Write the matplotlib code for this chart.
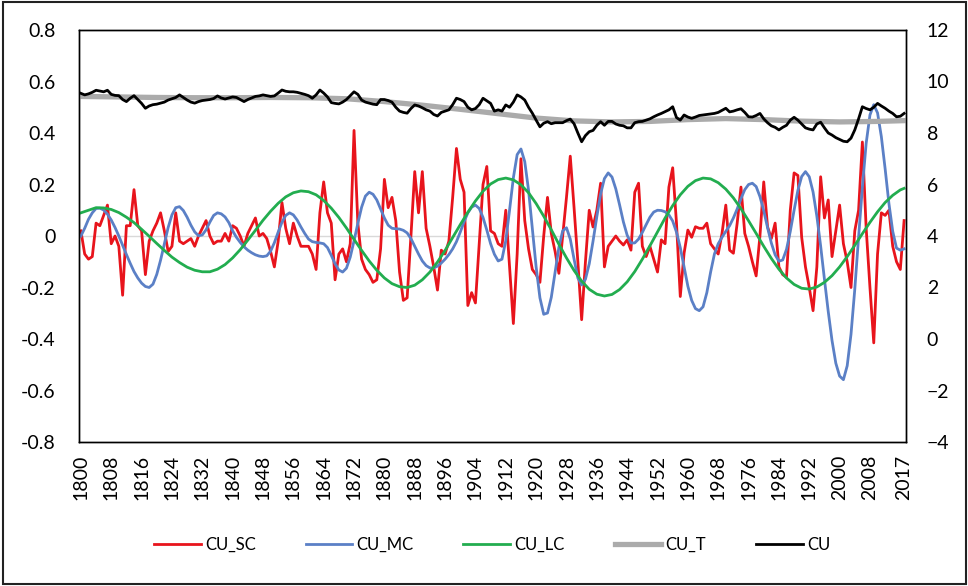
import matplotlib
matplotlib.use("Agg")
import matplotlib.pyplot as plt
import numpy as np
from matplotlib.patches import Rectangle
from matplotlib.ticker import FuncFormatter

plt.rcParams['font.family'] = ['Lato', 'DejaVu Sans']

years = np.arange(1800, 2018)

# short cycle component (left axis)
cu_sc = [
    0.02, -0.07, -0.09, -0.08, 0.05, 0.04, 0.08, 0.12, -0.03, 0.00,
    -0.04, -0.23, 0.04, 0.04, 0.18, 0.04, 0.02, -0.15, -0.02, 0.02,
    0.05, 0.09, 0.02, -0.06, -0.04, 0.09, -0.02, -0.03, -0.02, -0.01,
    -0.04, 0.00, 0.03, 0.06, 0.00, -0.03, -0.02, -0.02, 0.01, -0.02,
    0.04, 0.03, 0.00, -0.04, 0.01, 0.04, 0.07, 0.00, 0.01, -0.01,
    -0.06, -0.12, -0.02, 0.13, 0.03, -0.03, 0.05, 0.00, -0.04, -0.04,
    -0.04, -0.07, -0.13, 0.09, 0.21, 0.09, 0.05, -0.17, -0.07, -0.05,
    -0.10, -0.03, 0.41, 0.05, -0.09, -0.13, -0.15, -0.18, -0.17, -0.05,
    0.22, 0.11, 0.15, 0.06, -0.14, -0.25, -0.24, 0.00, 0.25, 0.09,
    0.25, 0.03, -0.04, -0.12, -0.21, -0.055, -0.07, -0.02, 0.15, 0.34,
    0.22, 0.17, -0.27, -0.22, -0.26, -0.03, 0.20, 0.27, 0.02, 0.01,
    -0.03, -0.04, 0.10, -0.12, -0.34, -0.07, 0.30, 0.06, -0.05, -0.13,
    -0.15, -0.18, 0.00, 0.15, 0.01, -0.06, -0.145, 0.00, 0.15, 0.31,
    0.11, -0.10, -0.325, -0.10, 0.10, 0.035, 0.10, 0.205, -0.12, -0.04,
    -0.02, 0.00, -0.02, -0.035, -0.015, -0.055, 0.17, 0.205, -0.04, -0.08,
    -0.04, -0.09, -0.14, -0.015, -0.03, 0.19, 0.265, 0.05, -0.235, -0.067,
    0.023, -0.005, 0.036, 0.03, 0.03, 0.05, -0.03, -0.05, -0.07, 0.01,
    0.12, -0.055, -0.067, 0.05, 0.19, 0.01, -0.04, -0.10, -0.155, 0.00,
    0.21, 0.036, -0.01, 0.05, -0.12, -0.15, -0.16, 0.10, 0.245, 0.235,
    -0.005, -0.12, -0.20, -0.29, -0.12, 0.23, 0.07, 0.14, -0.08, 0.02,
    0.12, -0.03, -0.10, -0.20, 0.02, 0.10, 0.365, 0.03, -0.20, -0.415,
    -0.07, 0.09, 0.08, 0.10, -0.04, -0.10, -0.13, 0.06,
]

# medium cycle component (left axis)
cu_mc = [
    0.00, 0.03, 0.065, 0.09, 0.107, 0.108, 0.101, 0.085, 0.062, 0.033,
    0.00, -0.036, -0.072, -0.106, -0.138, -0.163, -0.183, -0.196, -0.20, -0.187,
    -0.149, -0.094, -0.030, 0.033, 0.082, 0.110, 0.114, 0.099, 0.073, 0.042,
    0.016, 0.001, 0.004, 0.024, 0.054, 0.080, 0.090, 0.086, 0.074, 0.052,
    0.020, -0.005, -0.025, -0.042, -0.055, -0.065, -0.073, -0.078, -0.080, -0.077,
    -0.059, -0.026, 0.015, 0.053, 0.080, 0.090, 0.082, 0.062, 0.035, 0.010,
    -0.012, -0.022, -0.025, -0.027, -0.030, -0.045, -0.075, -0.108, -0.132, -0.140,
    -0.125, -0.082, -0.019, 0.049, 0.112, 0.155, 0.170, 0.162, 0.140, 0.105,
    0.070, 0.042, 0.030, 0.028, 0.027, 0.022, 0.012, -0.010, -0.040, -0.070,
    -0.097, -0.115, -0.124, -0.124, -0.117, -0.105, -0.090, -0.072, -0.050, -0.022,
    0.015, 0.055, 0.090, 0.112, 0.120, 0.107, 0.072, 0.023, -0.030, -0.071,
    -0.097, -0.090, -0.018, 0.101, 0.226, 0.316, 0.338, 0.289, 0.178, 0.030,
    -0.120, -0.240, -0.304, -0.299, -0.238, -0.142, -0.044, 0.020, 0.032, -0.012,
    -0.090, -0.163, -0.190, -0.168, -0.108, -0.020, 0.075, 0.163, 0.223, 0.245,
    0.229, 0.183, 0.121, 0.055, 0.003, -0.027, -0.027, -0.012, 0.014, 0.044,
    0.073, 0.093, 0.100, 0.099, 0.094, 0.082, 0.058, 0.015, -0.045, -0.120,
    -0.195, -0.250, -0.282, -0.290, -0.275, -0.220, -0.140, -0.070, -0.030, -0.005,
    0.018, 0.040, 0.070, 0.105, 0.145, 0.180, 0.200, 0.205, 0.192, 0.153,
    0.098, 0.033, -0.027, -0.073, -0.098, -0.093, -0.052, 0.018, 0.100, 0.177,
    0.231, 0.250, 0.230, 0.171, 0.077, -0.039, -0.168, -0.293, -0.406, -0.494,
    -0.544, -0.558, -0.504, -0.382, -0.207, -0.005, 0.189, 0.360, 0.470, 0.510,
    0.478, 0.386, 0.261, 0.126, 0.018, -0.047, -0.055, -0.050,
]

# long cycle component, every second year (left axis)
lc_years = list(range(1800, 2017, 2)) + [2017]
cu_lc = [
    0.090, 0.100, 0.110, 0.109, 0.103, 0.091, 0.073, 0.052, 0.026, -0.001,
    -0.029, -0.056, -0.082, -0.103, -0.121, -0.133, -0.139, -0.139, -0.129, -0.111,
    -0.085, -0.053, -0.016, 0.022, 0.061, 0.096, 0.127, 0.152, 0.168, 0.175,
    0.172, 0.160, 0.138, 0.108, 0.072, 0.031, -0.013, -0.056, -0.097, -0.133,
    -0.163, -0.185, -0.197, -0.200, -0.191, -0.170, -0.140, -0.101, -0.056, -0.006,
    0.044, 0.092, 0.136, 0.174, 0.202, 0.219, 0.225, 0.218, 0.199, 0.168,
    0.126, 0.077, 0.024, -0.032, -0.085, -0.134, -0.175, -0.207, -0.226, -0.233,
    -0.227, -0.208, -0.178, -0.138, -0.090, -0.038, 0.016, 0.070, 0.118, 0.160,
    0.193, 0.215, 0.225, 0.222, 0.207, 0.182, 0.148, 0.106, 0.059, 0.010,
    -0.040, -0.087, -0.129, -0.163, -0.188, -0.203, -0.206, -0.198, -0.180, -0.154,
    -0.120, -0.080, -0.036, 0.009, 0.053, 0.094, 0.130, 0.158, 0.179,
    0.185,
]

# trend (right axis)
t_years = list(range(1800, 2011, 10)) + [2017]
cu_t = [9.42, 9.40, 9.38, 9.37, 9.37, 9.38, 9.37, 9.33, 9.22, 9.08, 8.92,
        8.75, 8.58, 8.47, 8.43, 8.45, 8.52, 8.56, 8.52, 8.46, 8.43, 8.45, 8.48]

# observed series (right axis)
cu = [
    9.54, 9.48, 9.52, 9.58, 9.66, 9.63, 9.60, 9.66, 9.50, 9.46,
    9.45, 9.30, 9.22, 9.35, 9.45, 9.30, 9.15, 8.96, 9.05, 9.10,
    9.12, 9.16, 9.20, 9.28, 9.33, 9.38, 9.48, 9.38, 9.28, 9.20,
    9.16, 9.22, 9.26, 9.28, 9.30, 9.34, 9.44, 9.36, 9.32, 9.36,
    9.40, 9.38, 9.30, 9.22, 9.30, 9.36, 9.42, 9.44, 9.48, 9.45,
    9.42, 9.44, 9.55, 9.67, 9.62, 9.60, 9.60, 9.58, 9.54, 9.50,
    9.45, 9.35, 9.48, 9.67, 9.55, 9.40, 9.18, 9.15, 9.13, 9.20,
    9.30, 9.45, 9.60, 9.50, 9.28, 9.20, 9.16, 9.12, 9.10, 9.30,
    9.30, 9.26, 9.20, 9.00, 8.85, 8.80, 8.77, 8.95, 9.09, 9.05,
    8.98, 8.90, 8.85, 8.72, 8.66, 8.80, 8.85, 8.90, 9.10, 9.35,
    9.30, 9.22, 9.00, 8.90, 8.95, 9.10, 9.35, 9.25, 9.15, 8.85,
    8.90, 8.85, 9.09, 9.00, 9.20, 9.48, 9.40, 9.28, 9.00, 8.77,
    8.50, 8.24, 8.38, 8.44, 8.36, 8.40, 8.40, 8.40, 8.48, 8.54,
    8.36, 8.00, 7.66, 7.90, 8.05, 8.10, 8.30, 8.44, 8.30, 8.45,
    8.45, 8.35, 8.30, 8.28, 8.20, 8.20, 8.40, 8.44, 8.45, 8.50,
    8.55, 8.63, 8.70, 8.76, 8.83, 8.90, 9.02, 8.60, 8.50, 8.70,
    8.62, 8.57, 8.62, 8.68, 8.70, 8.72, 8.74, 8.76, 8.80, 8.88,
    8.96, 8.82, 8.85, 8.90, 8.94, 8.80, 8.63, 8.62, 8.68, 8.76,
    8.55, 8.40, 8.28, 8.22, 8.12, 8.22, 8.30, 8.50, 8.61, 8.50,
    8.35, 8.20, 8.15, 8.12, 8.35, 8.42, 8.20, 8.00, 7.92, 7.82,
    7.75, 7.68, 7.66, 7.80, 8.12, 8.55, 9.02, 8.95, 8.90, 9.00,
    9.15, 9.05, 8.96, 8.85, 8.76, 8.63, 8.65, 8.76,
]

x_ticks = list(range(1800, 2009, 8)) + [2017]

fig = plt.figure(figsize=(9.68, 5.86), dpi=100)
ax = fig.add_axes([79 / 968, 1 - 442 / 586, 827 / 968, 412 / 586])
ax2 = ax.twinx()

ax.axhline(0, color='#d9d9d9', lw=1, zorder=1)
l1, = ax.plot(years, cu_sc, color='#e8141c', lw=2.0, label='CU_SC', zorder=2)
l2, = ax.plot(years, cu_mc, color='#5b80c6', lw=2.0, label='CU_MC', zorder=3)
l3, = ax.plot(lc_years, cu_lc, color='#22ad4f', lw=2.0, label='CU_LC', zorder=4)
l4, = ax2.plot(t_years, cu_t, color='#ababab', lw=3.8, label='CU_T')
l5, = ax2.plot(years, cu, color='black', lw=2.0, label='CU')

ax.set_xlim(1799.5, 2017.5)
ax.set_xticks(x_ticks)
ax.set_xticklabels([str(y) for y in x_ticks], rotation=90)

ax.set_ylim(-0.8, 0.8)
ax.set_yticks(np.arange(-0.8, 0.81, 0.2))
ax.yaxis.set_major_formatter(FuncFormatter(lambda v, _: f"{round(v, 1) + 0.0:g}"))
ax2.set_ylim(-4, 12)
ax2.set_yticks(range(-4, 13, 2))

ax.tick_params(axis='y', length=0, pad=17, labelsize=14)
ax.tick_params(axis='x', length=0, pad=9, labelsize=14)
ax2.tick_params(axis='y', length=0, pad=15, labelsize=14)

for a in (ax, ax2):
    for s in a.spines.values():
        s.set_color('black')
        s.set_linewidth(1.0)

fig.legend([l1, l2, l3, l4, l5], ['CU_SC', 'CU_MC', 'CU_LC', 'CU_T', 'CU'],
           loc='center', bbox_to_anchor=(492 / 968, 1 - 545 / 586), ncol=5,
           frameon=False, fontsize=12, handlelength=2.8, handletextpad=0.25,
           columnspacing=3.0)

fig.add_artist(Rectangle((3 / 968, 2 / 586), 963 / 968, 582 / 586,
                         transform=fig.transFigure, fill=False,
                         edgecolor='#222222', lw=1.5))

fig.savefig('out.png', dpi=100)
